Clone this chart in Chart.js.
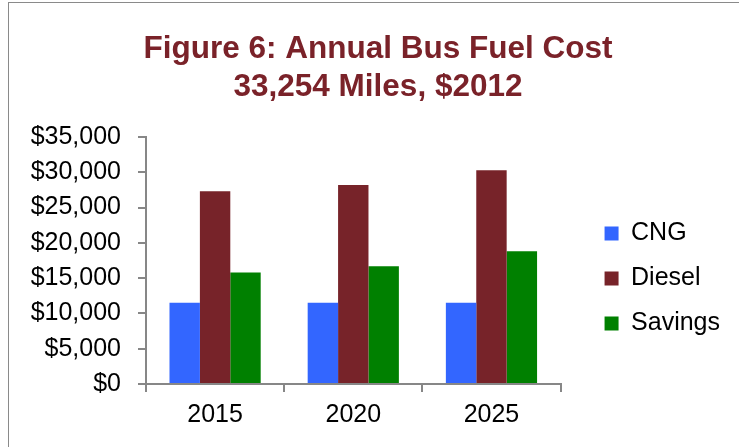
<!DOCTYPE html>
<html>
<head>
<meta charset="utf-8">
<script src="https://cdn.jsdelivr.net/npm/chart.js@4.4.1/dist/chart.umd.min.js"></script>
<style>
    html, body { margin: 0; padding: 0; background: #fff; overflow: hidden; }
    #wrap { position: relative; width: 739px; height: 447px; }
    #frame {
        position: absolute; left: 8px; top: 2px; width: 800px; height: 600px;
        border: 1px solid #8a8a8a; pointer-events: none;
    }
</style>
</head>
<body>
<div id="wrap">
    <canvas id="chart" width="739" height="447"></canvas>
    <div id="frame"></div>
</div>
<script>
    "use strict";

    var years = ['2015', '2020', '2025'];
    var cngCost = [11500, 11500, 11500];
    var dieselCost = [27300, 28200, 30300];
    var savings = [15800, 16700, 18800];
    var yTicks = [0, 5000, 10000, 15000, 20000, 25000, 30000, 35000];

    var titleLines = ['Figure 6: Annual Bus Fuel Cost', '33,254 Miles, $2012'];

    var axisGrey = '#878787';
    var font = 'Liberation Sans, Arial, sans-serif';

    function dollars(v) {
        return '$' + v.toString().replace(/\B(?=(\d{3})+(?!\d))/g, ',');
    }

    // title and legend sit a little off from where chart.js would put them
    var boxNudge = {
        id: 'boxNudge',
        afterLayout: function(chart) {
            var tb = chart.titleBlock;
            tb.left += 11;
            tb.right += 11;
            var lg = chart.legend;
            lg.left += 24;
            lg.right += 24;
            lg.top += 55;
            lg.bottom += 55;
        }
    };

    new Chart(document.getElementById('chart'), {
        type: 'bar',
        data: {
            labels: years,
            datasets: [{
                label: 'CNG',
                data: cngCost,
                backgroundColor: '#3366ff'
            }, {
                label: 'Diesel',
                data: dieselCost,
                backgroundColor: '#772329'
            }, {
                label: 'Savings',
                data: savings,
                backgroundColor: '#008000'
            }]
        },
        plugins: [boxNudge],
        options: {
            responsive: false,
            animation: false,
            layout: {
                padding: { left: 28, right: 33, top: 0, bottom: 0 }
            },
            datasets: {
                bar: { categoryPercentage: 0.66, barPercentage: 1.0 }
            },
            plugins: {
                title: {
                    display: true,
                    text: titleLines,
                    color: '#7a2229',
                    font: { family: font, size: 31.5, weight: 'bold', lineHeight: 1.19 },
                    padding: { top: 31, bottom: 31 }
                },
                legend: {
                    position: 'right',
                    labels: {
                        color: '#000',
                        font: { family: font, size: 25 },
                        boxWidth: 14,
                        boxHeight: 14,
                        padding: 20
                    }
                },
                tooltip: { enabled: false }
            },
            scales: {
                x: {
                    grid: {
                        display: true,
                        drawOnChartArea: false,
                        drawTicks: true,
                        tickLength: 8,
                        color: axisGrey,
                        lineWidth: 2
                    },
                    border: { color: axisGrey, width: 2 },
                    ticks: {
                        color: '#000',
                        font: { family: font, size: 25 },
                        padding: 8
                    },
                    afterFit: function(scale) { scale.height = 63; }
                },
                y: {
                    min: 0,
                    max: 35000,
                    afterBuildTicks: function(scale) {
                        scale.ticks = yTicks.map(function(v) { return { value: v }; });
                    },
                    grid: {
                        display: true,
                        drawOnChartArea: false,
                        drawTicks: true,
                        tickLength: 8,
                        color: axisGrey,
                        lineWidth: 2
                    },
                    border: { color: axisGrey, width: 2 },
                    ticks: {
                        color: '#000',
                        font: { family: font, size: 25 },
                        padding: 17,
                        callback: function(v) { return dollars(v); }
                    },
                    afterFit: function(scale) { scale.width = 118; }
                }
            }
        }
    });
</script>
</body>
</html>
